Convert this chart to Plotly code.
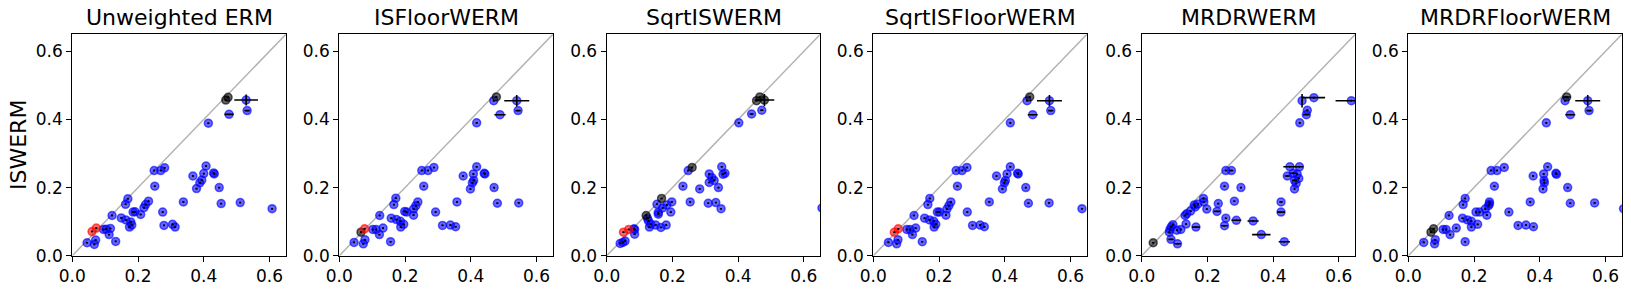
import plotly.graph_objects as go

TITLES = ["Unweighted ERM", "ISFloorWERM", "SqrtISWERM", "SqrtISFloorWERM", "MRDRWERM", "MRDRFloorWERM"]
Y_LABEL = "ISWERM"
TICKS = [0.0, 0.2, 0.4, 0.6]
TICK_TEXT = ["0.0", "0.2", "0.4", "0.6"]

# ---------- Unweighted ERM ----------
P1_X = [0.467, 0.474, 0.529, 0.532, 0.477, 0.414, 0.249, 0.269, 0.281, 0.251, 0.367, 0.407, 0.400, 0.430, 0.432,
        0.394, 0.388, 0.378, 0.447, 0.453, 0.511, 0.608, 0.338, 0.275, 0.279, 0.305, 0.313, 0.169, 0.162, 0.149,
        0.163, 0.178, 0.174, 0.181, 0.185, 0.191, 0.208, 0.218, 0.223, 0.232, 0.121, 0.116, 0.103, 0.112, 0.132,
        0.071, 0.067, 0.045, 0.095, 0.060, 0.073]
P1_Y = [0.457, 0.465, 0.457, 0.426, 0.415, 0.389, 0.250, 0.250, 0.258, 0.204, 0.234, 0.263, 0.241, 0.243, 0.240,
        0.222, 0.214, 0.197, 0.200, 0.153, 0.156, 0.138, 0.158, 0.128, 0.089, 0.092, 0.084, 0.167, 0.151, 0.111,
        0.105, 0.099, 0.084, 0.090, 0.128, 0.129, 0.121, 0.141, 0.150, 0.160, 0.118, 0.080, 0.078, 0.062, 0.042,
        0.046, 0.033, 0.038, 0.077, 0.071, 0.081]
P1_G = list("kk" + "b" * 47 + "rr")
P1_EX = [0.003, 0.004, 0.036, 0.008, 0.014] + [0.003] * 46
P1_EY = [0.003, 0.003, 0.016, 0.002, 0.002] + [0.002] * 46

# ---------- ISFloorWERM ----------
P2_X = [0.478, 0.540, 0.544, 0.489, 0.470, 0.418, 0.251, 0.270, 0.288, 0.257, 0.377, 0.418, 0.408, 0.441, 0.443,
        0.409, 0.405, 0.399, 0.471, 0.481, 0.546, 0.358, 0.293, 0.314, 0.338, 0.354, 0.172, 0.166, 0.158, 0.174,
        0.186, 0.187, 0.196, 0.199, 0.205, 0.226, 0.226, 0.233, 0.239, 0.123, 0.112, 0.133, 0.122, 0.156, 0.078,
        0.073, 0.045, 0.102, 0.077, 0.066]
P2_Y = [0.466, 0.455, 0.426, 0.414, 0.455, 0.390, 0.250, 0.250, 0.259, 0.204, 0.234, 0.261, 0.240, 0.242, 0.240,
        0.221, 0.214, 0.196, 0.200, 0.154, 0.155, 0.158, 0.128, 0.089, 0.090, 0.085, 0.169, 0.150, 0.110, 0.106,
        0.101, 0.084, 0.092, 0.130, 0.128, 0.119, 0.137, 0.147, 0.158, 0.118, 0.077, 0.081, 0.062, 0.041, 0.047,
        0.035, 0.039, 0.077, 0.079, 0.069]
P2_G = list("k" + "b" * 47 + "rk")
P2_EX = [0.003, 0.038, 0.008, 0.017] + [0.003] * 46
P2_EY = [0.003, 0.017, 0.002, 0.002] + [0.002] * 46

# ---------- SqrtISWERM ----------
P3_X = [0.480, 0.456, 0.466, 0.260, 0.167, 0.120, 0.441, 0.472, 0.402, 0.248, 0.232, 0.350, 0.312, 0.320, 0.312,
        0.327, 0.360, 0.354, 0.283, 0.340, 0.254, 0.309, 0.332, 0.348, 0.655, 0.153, 0.157, 0.157, 0.170, 0.183,
        0.198, 0.195, 0.127, 0.130, 0.124, 0.149, 0.165, 0.181, 0.134, 0.085, 0.085, 0.056, 0.041, 0.049, 0.083,
        0.051, 0.067]
P3_Y = [0.457, 0.455, 0.466, 0.259, 0.168, 0.118, 0.416, 0.427, 0.390, 0.250, 0.204, 0.261, 0.240, 0.229, 0.215,
        0.221, 0.242, 0.239, 0.196, 0.200, 0.158, 0.154, 0.156, 0.138, 0.140, 0.151, 0.127, 0.122, 0.140, 0.149,
        0.158, 0.128, 0.102, 0.084, 0.110, 0.090, 0.083, 0.090, 0.093, 0.077, 0.063, 0.043, 0.036, 0.039, 0.079,
        0.069, 0.077]
P3_G = list("k" * 6 + "b" * 39 + "rr")
P3_EX = [0.030, 0.003, 0.003, 0.003, 0.003, 0.003, 0.006, 0.005] + [0.003] * 39
P3_EY = [0.018] + [0.002] * 46

# ---------- SqrtISFloorWERM ----------
P4_X = [0.476, 0.536, 0.540, 0.485, 0.468, 0.417, 0.252, 0.270, 0.285, 0.256, 0.375, 0.417, 0.407, 0.439, 0.441,
        0.402, 0.399, 0.393, 0.464, 0.472, 0.535, 0.635, 0.353, 0.286, 0.302, 0.325, 0.338, 0.172, 0.166, 0.156,
        0.171, 0.184, 0.185, 0.190, 0.195, 0.201, 0.221, 0.224, 0.230, 0.236, 0.124, 0.112, 0.129, 0.119, 0.149,
        0.075, 0.071, 0.046, 0.102, 0.064, 0.076]
P4_Y = [0.466, 0.455, 0.426, 0.414, 0.455, 0.390, 0.250, 0.250, 0.259, 0.204, 0.234, 0.261, 0.240, 0.242, 0.240,
        0.221, 0.214, 0.196, 0.200, 0.154, 0.155, 0.138, 0.158, 0.128, 0.089, 0.090, 0.085, 0.168, 0.150, 0.110,
        0.105, 0.101, 0.084, 0.092, 0.128, 0.128, 0.119, 0.137, 0.147, 0.158, 0.118, 0.077, 0.081, 0.062, 0.041,
        0.047, 0.035, 0.039, 0.077, 0.069, 0.079]
P4_G = list("k" + "b" * 48 + "rr")
P4_EX = [0.003, 0.038, 0.008, 0.015] + [0.003] * 47
P4_EY = [0.003, 0.017, 0.002, 0.002] + [0.002] * 47

# ---------- MRDRWERM ----------
P5_X = [0.035, 0.089, 0.109, 0.165, 0.229, 0.273, 0.252, 0.288, 0.339, 0.364, 0.434, 0.424, 0.424, 0.443, 0.451,
        0.480, 0.461, 0.465, 0.501, 0.488, 0.524, 0.638, 0.086, 0.095, 0.090, 0.084, 0.107, 0.119, 0.132, 0.137,
        0.135, 0.149, 0.163, 0.160, 0.171, 0.188, 0.189, 0.198, 0.233, 0.252, 0.256, 0.256, 0.282, 0.302, 0.473,
        0.478, 0.470, 0.465, 0.481, 0.504]
P5_Y = [0.038, 0.048, 0.035, 0.084, 0.130, 0.250, 0.088, 0.104, 0.102, 0.062, 0.041, 0.158, 0.128, 0.234, 0.261,
        0.261, 0.242, 0.221, 0.414, 0.455, 0.464, 0.455, 0.077, 0.091, 0.085, 0.069, 0.075, 0.077, 0.118, 0.123,
        0.093, 0.131, 0.143, 0.149, 0.152, 0.168, 0.158, 0.137, 0.153, 0.204, 0.250, 0.110, 0.160, 0.200, 0.240,
        0.227, 0.212, 0.196, 0.390, 0.427]
P5_G = list("k" + "b" * 49)
P5_EX = [0.003, 0.008, 0.010, 0.012, 0.010, 0.006, 0.010, 0.015, 0.017, 0.028, 0.017, 0.005, 0.012, 0.008, 0.020,
         0.012, 0.010, 0.008, 0.010, 0.003, 0.034, 0.048] + [0.003] * 28
P5_EY = [0.002] * 19 + [0.020, 0.003, 0.003] + [0.002] * 28

# ---------- MRDRFloorWERM ----------
P6_X = [0.482, 0.546, 0.550, 0.493, 0.477, 0.420, 0.252, 0.270, 0.292, 0.262, 0.380, 0.424, 0.412, 0.449, 0.451,
        0.413, 0.414, 0.410, 0.485, 0.493, 0.567, 0.371, 0.306, 0.334, 0.358, 0.381, 0.173, 0.167, 0.165, 0.180,
        0.192, 0.192, 0.211, 0.206, 0.217, 0.239, 0.234, 0.244, 0.247, 0.247, 0.124, 0.115, 0.146, 0.127, 0.173,
        0.082, 0.080, 0.047, 0.106, 0.655, 0.069, 0.077]
P6_Y = [0.466, 0.455, 0.426, 0.414, 0.455, 0.390, 0.250, 0.250, 0.259, 0.204, 0.234, 0.261, 0.240, 0.242, 0.239,
        0.221, 0.214, 0.196, 0.200, 0.154, 0.155, 0.158, 0.128, 0.089, 0.090, 0.085, 0.168, 0.150, 0.110, 0.105,
        0.101, 0.084, 0.092, 0.128, 0.128, 0.119, 0.137, 0.147, 0.158, 0.152, 0.118, 0.077, 0.081, 0.062, 0.041,
        0.047, 0.035, 0.039, 0.077, 0.138, 0.069, 0.079]
P6_G = list("k" + "b" * 49 + "kk")
P6_EX = [0.012, 0.038, 0.008, 0.015] + [0.003] * 48
P6_EY = [0.003, 0.017, 0.002, 0.002] + [0.002] * 48

PANELS = [
    (P1_X, P1_Y, P1_G, P1_EX, P1_EY),
    (P2_X, P2_Y, P2_G, P2_EX, P2_EY),
    (P3_X, P3_Y, P3_G, P3_EX, P3_EY),
    (P4_X, P4_Y, P4_G, P4_EX, P4_EY),
    (P5_X, P5_Y, P5_G, P5_EX, P5_EY),
    (P6_X, P6_Y, P6_G, P6_EX, P6_EY),
]
for p in PANELS:
    assert len(set(len(a) for a in p)) == 1, [len(a) for a in p]

# ---------- styling / layout ----------
W, H = 1631, 294
LEFTS = [72.3, 339.3, 606.7, 873.3, 1141.7, 1408.3]  # px
PW = 213.6
TOP, BOTTOM = 34.3, 255.7  # px
LIM = 0.65
COLORS = {"b": "rgba(0,0,255,0.6)", "r": "rgba(255,0,0,0.6)", "k": "rgba(0,0,0,0.6)"}
FONT = "DejaVu Sans"


def fx(px):
    return px / W


def fy(py):
    return 1 - py / H


fig = go.Figure()
layout = dict(
    template="none",
    width=W, height=H, margin=dict(l=0, r=0, t=0, b=0, pad=0), autosize=False,
    paper_bgcolor="white", plot_bgcolor="white", showlegend=False, hovermode=False,
    font=dict(family=FONT, color="black", size=17),
)
annotations = []

for i, (xs, ys, gs, exs, eys) in enumerate(PANELS):
    n = i + 1
    xa = "x" if n == 1 else f"x{n}"
    ya = "y" if n == 1 else f"y{n}"
    ax_common = dict(range=[0, LIM], tickvals=TICKS, ticktext=TICK_TEXT, ticks="outside", ticklen=5,
                     tickwidth=1.2, tickcolor="black", showline=True, mirror=True, linecolor="black",
                     linewidth=1.2, showgrid=False, zeroline=False, automargin=False,
                     tickfont=dict(size=17, family=FONT, color="black"))
    layout["xaxis" if n == 1 else f"xaxis{n}"] = dict(
        ax_common, domain=[fx(LEFTS[i]), fx(LEFTS[i] + PW)], anchor=ya)
    layout["yaxis" if n == 1 else f"yaxis{n}"] = dict(
        ax_common, domain=[fy(BOTTOM), fy(TOP)], anchor=xa)

    # diagonal
    fig.add_trace(go.Scatter(x=[0, LIM], y=[0, LIM], mode="lines", xaxis=xa, yaxis=ya,
                             line=dict(color="rgb(178,178,178)", width=1.5), hoverinfo="skip"))
    # markers by group
    for g in ["b", "k", "r"]:
        idx = [j for j, gg in enumerate(gs) if gg == g]
        if not idx:
            continue
        fig.add_trace(go.Scatter(
            x=[xs[j] for j in idx], y=[ys[j] for j in idx], mode="markers", xaxis=xa, yaxis=ya,
            marker=dict(size=8, color=COLORS[g], line=dict(color=COLORS[g], width=1.5)),
        ))
    # error bars on top
    fig.add_trace(go.Scatter(
        x=xs, y=ys, mode="markers", xaxis=xa, yaxis=ya,
        marker=dict(size=1, color="rgba(0,0,0,0)"),
        error_x=dict(type="data", array=exs, color="black", thickness=1.6, width=0),
        error_y=dict(type="data", array=eys, color="black", thickness=1.6, width=0),
        hoverinfo="skip",
    ))
    annotations.append(dict(
        text=TITLES[i], x=fx(LEFTS[i] + PW / 2), y=fy(18), xref="paper", yref="paper",
        xanchor="center", yanchor="middle", showarrow=False, font=dict(size=22, family=FONT)))

annotations.append(dict(
    text=Y_LABEL, x=fx(18), y=fy((TOP + BOTTOM) / 2), xref="paper", yref="paper",
    xanchor="center", yanchor="middle", showarrow=False, textangle=-90, font=dict(size=22, family=FONT)))

layout["annotations"] = annotations
fig.update_layout(**layout)
fig.write_html("out.html", config={"displayModeBar": False},
               post_script="document.body.style.margin='0';")
